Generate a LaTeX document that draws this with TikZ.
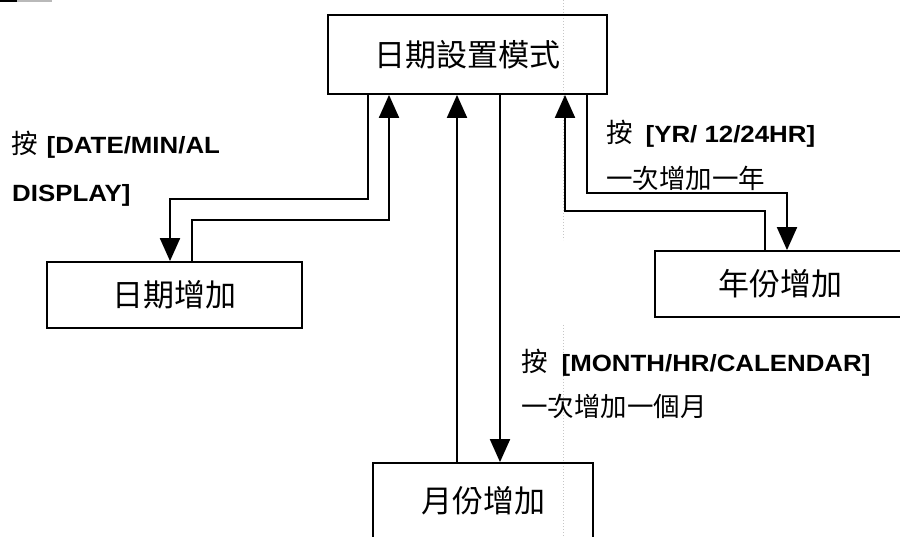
\documentclass[tikz,border=0pt]{standalone}
\usepackage{fontspec}
\usetikzlibrary{arrows.meta}
\newfontfamily\cjk{Noto Sans CJK TC}
\newfontfamily\latb{Liberation Sans}[FakeStretch=1.1]
\begin{document}
\begin{tikzpicture}[x=1pt,y=-1pt,
  box/.style={draw, line width=1.8pt, inner sep=0pt, font=\cjk\fontsize{31}{36}\selectfont},
  arr/.style={line width=2pt, -{Triangle[width=20pt,length=23pt]}},
  lbl/.style={anchor=base west, inner sep=0pt},
  cjkl/.style={font=\cjk\fontsize{26.5}{30}\selectfont},
  latf/.style={font=\latb\bfseries\fontsize{23.5}{28}\selectfont},
  scan/.style={gray!45, line width=0.8pt, dash pattern=on 1pt off 2pt}]
\useasboundingbox (0,0) rectangle (900,537);
% scan artifacts
\draw[scan] (563,0) -- (563,240);
\draw[scan] (563,325) -- (563,537);
\draw[line width=2pt, gray!55] (0,1) -- (52,1);
\draw[line width=2pt, black] (0,1) -- (17,1);
% boxes
\node[box, minimum width=279pt, minimum height=79pt] (top) at (467.5,54.5) {日期設置模式};
\node[box, minimum width=255pt, minimum height=66pt] (dleft) at (174.5,295) {日期增加};
\node[box, minimum width=250pt, minimum height=66pt] (year) at (780,284) {年份增加};
\node[box, minimum width=220pt, minimum height=76pt] (month) at (483,501) {月份增加};
% connectors
\coordinate (a1) at (368,199); \coordinate (a2) at (170,199);
\draw[arr] (top.south -| a1) -- (a1) -- (a2) -- (a2 |- dleft.north);
\coordinate (b1) at (192,220); \coordinate (b2) at (389,220);
\draw[arr] (b1 |- dleft.north) -- (b1) -- (b2) -- (b2 |- top.south);
\coordinate (m1) at (457,0); \coordinate (m2) at (500,0);
\draw[arr] (m1 |- month.north) -- (m1 |- top.south);
\draw[arr] (m2 |- top.south) -- (m2 |- month.north);
\coordinate (c1) at (587,193); \coordinate (c2) at (787,193);
\draw[arr] (top.south -| c1) -- (c1) -- (c2) -- (c2 |- year.north);
\coordinate (d1) at (765,211); \coordinate (d2) at (565,211);
\draw[arr] (d1 |- year.north) -- (d1) -- (d2) -- (d2 |- top.south);
% labels
\node[lbl] (l1) at (11,154) {{\cjk\fontsize{26.5}{30}\selectfont 按}\hspace{9pt}{\latb\bfseries\fontsize{23.5}{28}\selectfont [DATE/MIN/AL}};
\node[lbl, latf] (l2) at (12,202) {DISPLAY]};
\node[lbl] (r1) at (606,143) {{\cjk\fontsize{26.5}{30}\selectfont 按}\hspace{13pt}{\latb\bfseries\fontsize{23.5}{28}\selectfont [YR/ 12/24HR]}};
\node[lbl, cjkl] (r2) at (606,189) {一次增加一年};
\node[lbl] (m3) at (521,372) {{\cjk\fontsize{26.5}{30}\selectfont 按}\hspace{14pt}{\latb\bfseries\fontsize{23.5}{28}\selectfont [MONTH/HR/CALENDAR]}};
\node[lbl, cjkl] (m4) at (521,416) {一次增加一個月};
\end{tikzpicture}
\end{document}
